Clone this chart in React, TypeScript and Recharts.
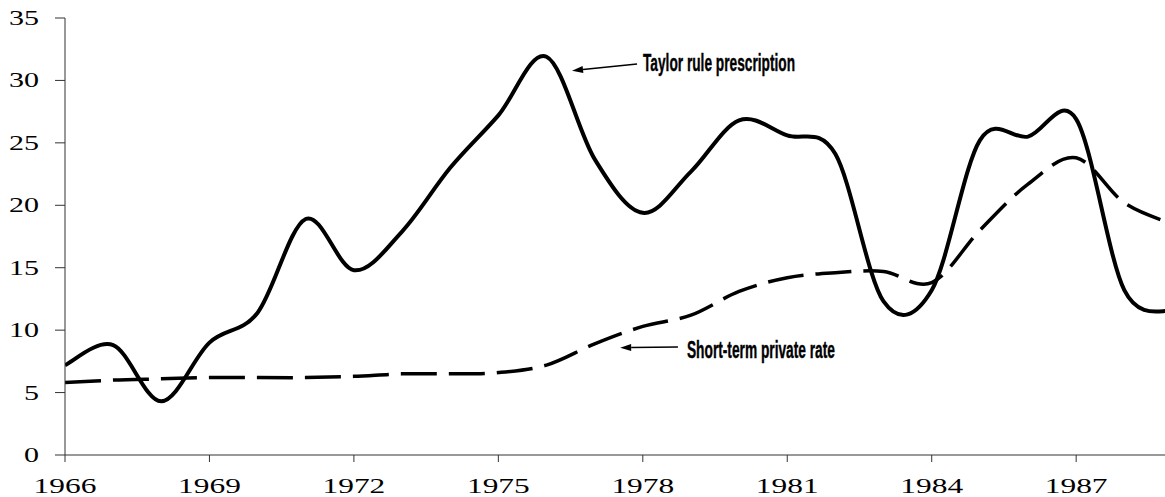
import { LineChart, Line, XAxis, YAxis, ReferenceLine } from 'recharts'

// annual observations, 1966-1989 (last one falls just past the right edge)
const years = [
  1966, 1967, 1968, 1969, 1970, 1971, 1972, 1973, 1974, 1975, 1976, 1977,
  1978, 1979, 1980, 1981, 1982, 1983, 1984, 1985, 1986, 1987, 1988, 1989,
]
const taylorRule = [
  7.2, 8.8, 4.3, 9.0, 11.4, 18.9, 14.8, 17.9, 23.0, 27.2, 31.9, 23.7,
  19.4, 22.7, 26.8, 25.6, 24.1, 12.3, 13.2, 25.2, 25.5, 26.9, 13.2, 11.5,
]
const shortTermRate = [
  5.8, 6.0, 6.1, 6.2, 6.2, 6.2, 6.3, 6.5, 6.5, 6.6, 7.2, 8.9,
  10.3, 11.2, 13.1, 14.2, 14.6, 14.7, 13.8, 18.0, 21.7, 23.8, 20.2, 18.5,
]
const xTicks = [1966, 1969, 1972, 1975, 1978, 1981, 1984, 1987]
const yTicks = [0, 5, 10, 15, 20, 25, 30, 35]

// arrow tip / tail in data units, text goes right of the tail
const annotations = [
  { label: 'Taylor rule prescription', tip: { x: 1976.53, y: 30.78 }, tail: { x: 1977.88, y: 31.32 }, textWidth: 152, gap: 6, dy: 7 },
  { label: 'Short-term private rate', tip: { x: 1977.53, y: 8.59 }, tail: { x: 1978.73, y: 8.65 }, textWidth: 148, gap: 9, dy: 11 },
]

const data = years.map((year, i) => ({
  year,
  taylor: taylorRule[i],
  shortTerm: shortTermRate[i],
}))

// Excel-style smoothed line (cardinal spline, tension 0)
function excelSmooth(context: any) {
  let pts: number[][] = []
  return {
    areaStart() {},
    areaEnd() {},
    lineStart() {
      pts = []
    },
    point(x: number, y: number) {
      pts.push([+x, +y])
    },
    lineEnd() {
      if (!pts.length) return
      context.moveTo(pts[0][0], pts[0][1])
      for (let i = 0; i < pts.length - 1; i++) {
        const p0 = pts[Math.max(0, i - 1)]
        const p1 = pts[i]
        const p2 = pts[i + 1]
        const p3 = pts[Math.min(pts.length - 1, i + 2)]
        context.bezierCurveTo(
          p1[0] + (p2[0] - p0[0]) / 6,
          p1[1] + (p2[1] - p0[1]) / 6,
          p2[0] - (p3[0] - p1[0]) / 6,
          p2[1] - (p3[1] - p1[1]) / 6,
          p2[0],
          p2[1]
        )
      }
    },
  }
}

const serif = '"Liberation Serif", "Times New Roman", serif'
const narrow = '"Liberation Sans Narrow", "Arial Narrow", "Liberation Sans", sans-serif'

function XTick(props: any) {
  const { x, y, payload } = props
  const s = String(payload.value)
  return (
    <text x={x} y={y + 31} textAnchor="middle" fontFamily={serif} fontSize={22} fill="#000"
      textLength={s.length * 15.7} lengthAdjust="spacingAndGlyphs">
      {s}
    </text>
  )
}

function YTick(props: any) {
  const { x, y, payload } = props
  const s = String(payload.value)
  return (
    <text x={x - 16} y={y + 7} textAnchor="end" fontFamily={serif} fontSize={21} fill="#000"
      textLength={s.length * 15} lengthAdjust="spacingAndGlyphs">
      {s}
    </text>
  )
}

function arrowShape(label: string, textWidth: number, gap: number, dy: number) {
  return (props: any) => {
    const { x1, y1, x2, y2 } = props
    const ang = Math.atan2(y2 - y1, x2 - x1)
    const len = 11
    const w = 3.5
    const bx = x1 + Math.cos(ang) * len
    const by = y1 + Math.sin(ang) * len
    const px = -Math.sin(ang) * w
    const py = Math.cos(ang) * w
    return (
      <g>
        <line x1={bx} y1={by} x2={x2} y2={y2} stroke="#000" strokeWidth={1.5} />
        <polygon points={`${x1},${y1} ${bx + px},${by + py} ${bx - px},${by - py}`} fill="#000" />
        <text x={x2 + gap} y={y2 + dy} fontFamily={narrow} fontWeight="bold" fontSize={24} fill="#000"
          stroke="#000" strokeWidth={0.4} textLength={textWidth} lengthAdjust="spacingAndGlyphs">
          {label}
        </text>
      </g>
    )
  }
}

export default function App() {
  return (
    <div style={{ position: 'absolute', left: 0, top: 0, width: 1165, height: 497, background: '#fff' }}>
      <LineChart width={1165} height={497} data={data} margin={{ top: 18, right: 0, left: 0, bottom: 0 }}>
        <XAxis
          dataKey="year"
          type="number"
          domain={[1966, 1988.845]}
          allowDataOverflow
          ticks={xTicks}
          height={42}
          tickSize={7}
          tickMargin={0}
          stroke="#333"
          tickLine={{ stroke: '#333' }}
          tick={<XTick />}
        />
        <YAxis
          domain={[0, 35]}
          ticks={yTicks}
          width={65}
          tickSize={10}
          tickMargin={0}
          stroke="#333"
          tickLine={{ stroke: '#333' }}
          tick={<YTick />}
        />
        <Line
          dataKey="shortTerm"
          type={excelSmooth as any}
          stroke="#000"
          strokeWidth={3.5}
          strokeDasharray="36 12"
          dot={false}
          activeDot={false}
          isAnimationActive={false}
        />
        <Line
          dataKey="taylor"
          type={excelSmooth as any}
          stroke="#000"
          strokeWidth={4}
          dot={false}
          activeDot={false}
          isAnimationActive={false}
        />
        {annotations.map(a => (
          <ReferenceLine
            key={a.label}
            segment={[a.tip, a.tail]}
            shape={arrowShape(a.label, a.textWidth, a.gap, a.dy)}
          />
        ))}
      </LineChart>
    </div>
  )
}
